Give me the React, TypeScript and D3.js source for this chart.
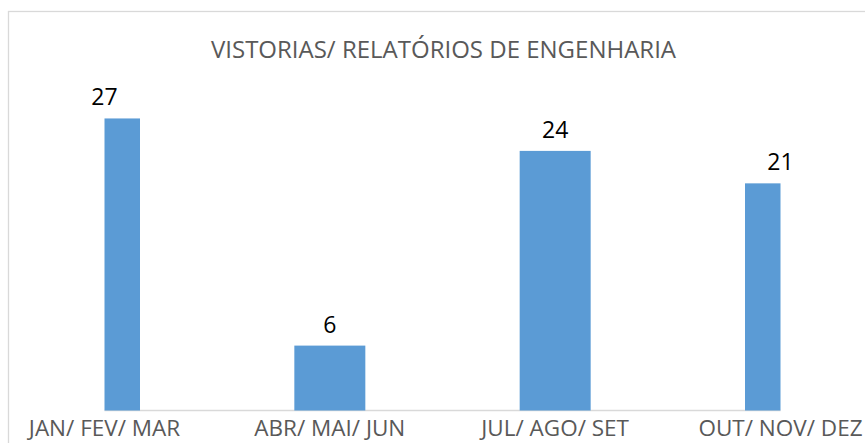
import * as d3 from "d3";

const title = "VISTORIAS/ RELATÓRIOS DE ENGENHARIA";
const quarters = ["JAN/ FEV/ MAR", "ABR/ MAI/ JUN", "JUL/ AGO/ SET", "OUT/ NOV/ DEZ"];
const counts = [27, 6, 24, 21];
const yDomain = [0, 30];

const W = 865,
  H = 443;
const font = "'Open Sans', 'Noto Sans', sans-serif";

export default function App() {
  // excel "on tick marks": categories sit on the plot edges, outer columns get cut in half
  const plot = { left: 104.5, right: 780.5, top: 86, bottom: 410.5 };

  const x = d3.scalePoint<string>().domain(quarters).range([plot.left, plot.right]);
  const y = d3.scaleLinear().domain(yDomain).range([plot.bottom, plot.top]);
  const barW = 71;

  return (
    <svg
      width={W}
      height={H}
      style={{ position: "absolute", left: 0, top: 0, background: "#fff" }}
    >
      <defs>
        <clipPath id="plot-clip">
          <rect x={plot.left} y={0} width={plot.right - plot.left} height={plot.bottom + 1} />
        </clipPath>
      </defs>

      <rect x={8.5} y={11.5} width={W} height={H} fill="#fff" stroke="#d9d9d9" strokeWidth={1.3} />

      <text
        x={443.5}
        y={58}
        textAnchor="middle"
        fontFamily={font}
        fontSize={24}
        fill="#595959"
      >
        {title}
      </text>

      <line
        x1={plot.left}
        x2={plot.right}
        y1={plot.bottom}
        y2={plot.bottom}
        stroke="#d9d9d9"
        strokeWidth={1.3}
      />

      <g clipPath="url(#plot-clip)">
        {quarters.map((q, i) => (
          <rect
            key={q}
            x={x(q)! - barW / 2}
            y={y(counts[i])}
            width={barW}
            height={y(0) - y(counts[i])}
            fill="#5b9bd5"
          />
        ))}
      </g>

      {quarters.map((q, i) => (
        <text
          key={q}
          x={x(q)!}
          y={y(counts[i]) - 13}
          textAnchor="middle"
          fontFamily={font}
          fontSize={23}
          fill="#000"
        >
          {counts[i]}
        </text>
      ))}

      {quarters.map((q) => (
        <text
          key={q}
          x={x(q)!}
          y={436}
          textAnchor="middle"
          fontFamily={font}
          fontSize={22.5}
          fill="#595959"
        >
          {q}
        </text>
      ))}
    </svg>
  );
}
